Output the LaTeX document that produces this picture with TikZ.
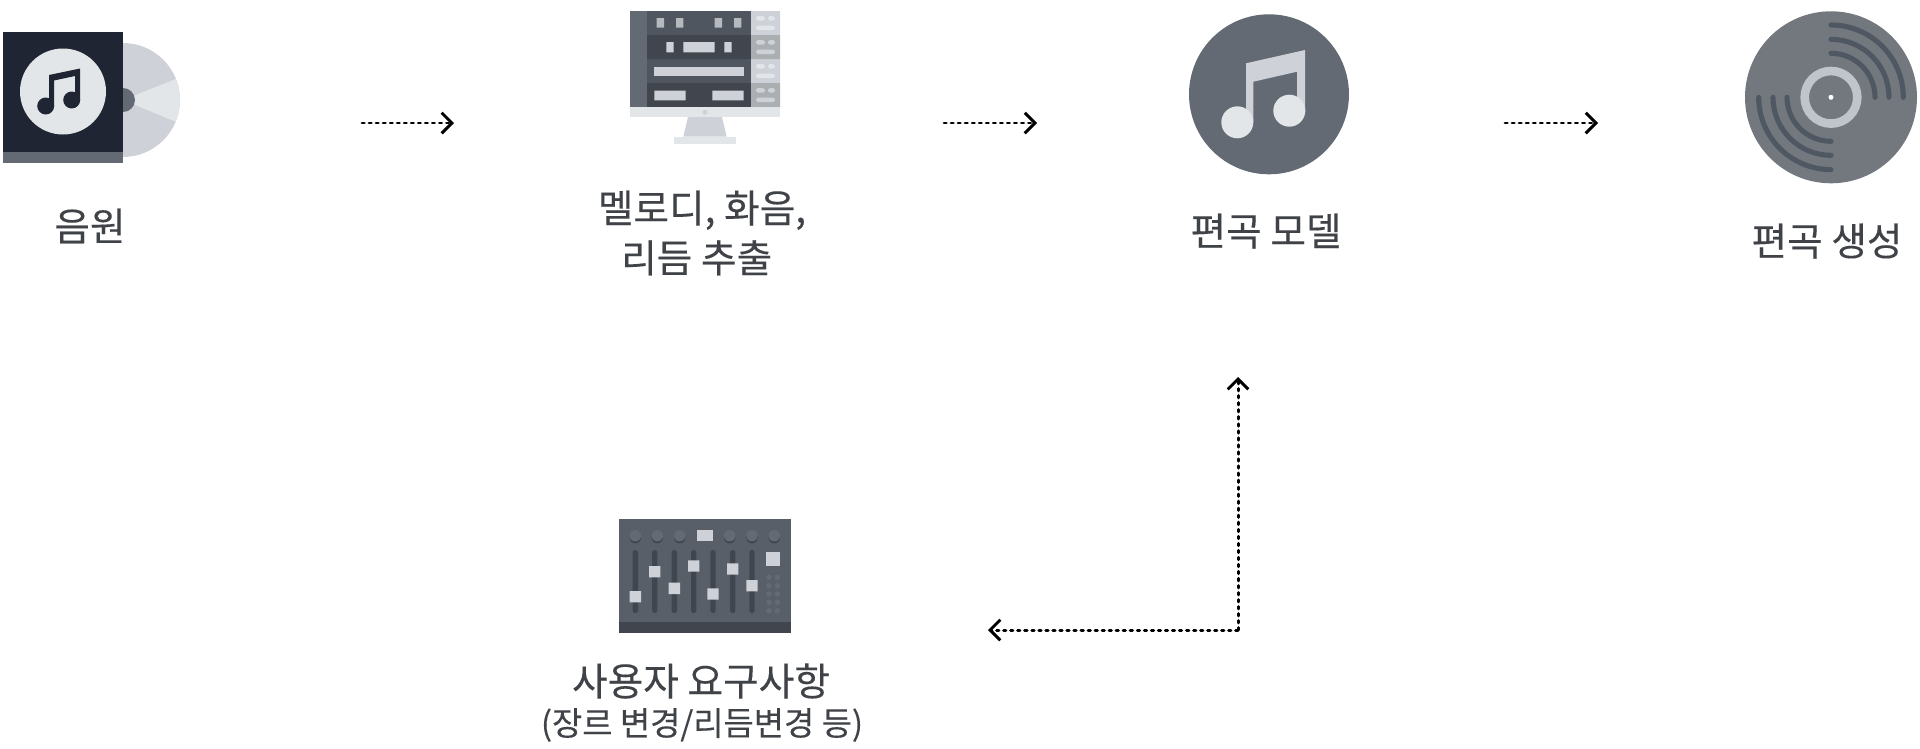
\documentclass[tikz,border=0pt]{standalone}
\usepackage{fontspec}
\setmainfont[FakeBold=.25]{Noto Sans CJK KR}
\usetikzlibrary{arrows.meta,calc}
\usepackage{tkz-euclide}
\definecolor{NavyClr}{HTML}{1F2533}
\definecolor{SlateClr}{HTML}{636A74}
\definecolor{PaleClr}{HTML}{CED2D8}
\definecolor{FogClr}{HTML}{E3E6E8}
\definecolor{RowClr}{HTML}{4F565F}
\definecolor{RowDarkClr}{HTML}{41464E}
\definecolor{GreyClr}{HTML}{ACAFB2}
\definecolor{VinylClr}{HTML}{73787F}
\definecolor{GrooveClr}{HTML}{4F5862}
\definecolor{DeskClr}{HTML}{585F68}
\definecolor{TextClr}{HTML}{3F4247}
\tikzset{
  FlowArrow/.style={line width=.85pt,color=black,dash pattern=on .65pt off 1.35pt,
    -{Straight Barb[length=2.9pt,width=5.8pt,line width=.85pt]}},
  StepLabel/.style={color=TextClr,font=\fontsize{11pt}{14.2pt}\selectfont,align=center,inner sep=0pt},
  NoteLabel/.style={color=TextClr,font=\fontsize{9.35pt}{12pt}\selectfont,align=center,inner sep=0pt},
  Groove/.style={line width=1.45pt,color=GrooveClr,line cap=round},
  Pill/.style={rounded corners=.5pt}
}
\begin{document}
\begin{tikzpicture}[x=.01cm,y=-.01cm]
\useasboundingbox (0,0) rectangle (1920,748);

\tkzDefPoints{362/123/AudioOut,454/123/ExtractIn,944/123/ExtractOut,1037/123/ModelIn,
  1505/123/ModelOut,1598/123/OutputIn,1238/630/Corner,1238/377/ModelBack,988/630/UserIn}

% album and disc
\fill[PaleClr] (123,100) circle (57);
\fill[FogClr] (123,100) -- (175.7,79) arc (-22:22:57) -- cycle;
\fill[SlateClr] (123,100) circle (12);
\fill[NavyClr] (3,32) rectangle (123,152);
\fill[SlateClr] (3,152) rectangle (123,163);
\fill[FogClr] (63,91.5) circle (43);
\fill[NavyClr] (49,75) -- (80,68.5) -- (80,100) -- (75,100) -- (75,76) -- (54,80.5) -- (54,106) -- (49,106) -- cycle;
\fill[NavyClr] (45.7,106) circle (8.5) (71.7,100) circle (8.5);

% monitor
\fill[RowClr] (647,11) rectangle (751,35) (647,59) rectangle (751,83);
\fill[RowDarkClr] (647,35) rectangle (751,59) (647,83) rectangle (751,107);
\fill[SlateClr] (630,11) rectangle (647,107);
\fill[PaleClr] (751,11) rectangle (780,35) (751,59) rectangle (780,83);
\fill[GreyClr] (751,35) rectangle (780,59) (751,83) rectangle (780,107);
\fill[FogClr] (630,107) rectangle (780,117);
\fill[PaleClr] (705,112.3) circle (2.5);
\fill[PaleClr] (688,117) -- (722,117) -- (726.7,136.7) -- (683.3,136.7) -- cycle;
\fill[FogClr] (673.7,136.7) rectangle (736.3,144);
\fill[GreyClr!70!PaleClr] (656.7,18) rectangle (664,27.7) (676,18) rectangle (683.3,27.7)
  (714.7,18) rectangle (722,27.7) (734,18) rectangle (741.3,27.7);
\fill[PaleClr] (666.3,42) rectangle (673.7,52.3) (683.3,42) rectangle (714.7,52.3) (724.3,42) rectangle (731.7,52.3);
\fill[PaleClr] (654.3,66.7) rectangle (743.7,76.3);
\fill[PaleClr] (654.3,90.7) rectangle (685.7,100.3) (712.3,90.7) rectangle (743.7,100.3);
\fill[FogClr,Pill] (756,16) rectangle (765,20.7) (768,16) rectangle (775,20.7) (756,25.7) rectangle (775,30)
  (756,64) rectangle (765,68.7) (768,64) rectangle (775,68.7) (756,73.7) rectangle (775,78);
\fill[PaleClr,Pill] (756,40) rectangle (765,44.7) (768,40) rectangle (775,44.7) (756,49.7) rectangle (775,54)
  (756,88) rectangle (765,92.7) (768,88) rectangle (775,92.7) (756,97.7) rectangle (775,102);

% note badge
\fill[SlateClr] (1269,94.3) circle (80);
\fill[PaleClr] (1246,63.3) -- (1305,50) -- (1305,112) -- (1297,112) -- (1297,71.7) -- (1253.3,81.7) -- (1253.3,122) -- (1246,122) -- cycle;
\fill[FogClr] (1237.3,122.3) circle (16) (1289.3,110.7) circle (16);

% record
\fill[VinylClr] (1831,97.3) circle (86);
\draw[Groove] (1831,25) arc (-90:0:72.3) (1831,39.3) arc (-90:0:58) (1831,53.3) arc (-90:0:44);
\draw[Groove] (1758.7,97.3) arc (-180:-270:72.3) (1773,97.3) arc (-180:-270:58) (1787,97.3) arc (-180:-270:44);
\draw[line width=2.45pt,color=PaleClr!85!VinylClr] (1831,97.3) circle (26.3);
\fill[white] (1831,97.3) circle (2.5);

% mixing desk
\fill[DeskClr] (619,519) rectangle (791,621.7);
\fill[RowDarkClr] (619,621.7) rectangle (791,633.3);
\fill[RowDarkClr] (635.3,537.7) circle (5.7) (657.3,537.7) circle (5.7) (679.7,537.7) circle (5.7)
  (729.7,537.7) circle (5.7) (752,537.7) circle (5.7) (774.3,537.7) circle (5.7);
\fill[SlateClr] (635.3,535.7) circle (5.7) (657.3,535.7) circle (5.7) (679.7,535.7) circle (5.7)
  (729.7,535.7) circle (5.7) (752,535.7) circle (5.7) (774.3,535.7) circle (5.7);
\fill[PaleClr] (696.7,530) rectangle (713.3,541.3);
\fill[RowDarkClr,rounded corners=.7pt] (632.6,550) rectangle (638,613) (652,550) rectangle (657.4,613)
  (671.6,550) rectangle (677,613) (691,550) rectangle (696.4,613) (710.3,550) rectangle (715.7,613)
  (730,550) rectangle (735.4,613) (749.3,550) rectangle (754.7,613);
\fill[PaleClr] (629.6,591) rectangle +(11.4,11.4) (649,566) rectangle +(11.4,11.4) (668.6,582.6) rectangle +(11.4,11.4)
  (688,560.3) rectangle +(11.4,11.4) (707.3,588.3) rectangle +(11.4,11.4) (727,563.3) rectangle +(11.4,11.4)
  (746.3,580) rectangle +(11.4,11.4);
\fill[PaleClr] (766,552.3) rectangle (780,566.3);
\fill[SlateClr] (769,577.3) circle (2.8) (777.3,577.3) circle (2.8) (769,585.7) circle (2.8) (777.3,585.7) circle (2.8)
  (769,594) circle (2.8) (777.3,594) circle (2.8) (769,602.3) circle (2.8) (777.3,602.3) circle (2.8)
  (769,610.7) circle (2.8) (777.3,610.7) circle (2.8);

\tkzDrawSegments[FlowArrow](AudioOut,ExtractIn ExtractOut,ModelIn ModelOut,OutputIn Corner,ModelBack Corner,UserIn)

\node[StepLabel] (audioLbl) at (90,226) {음원};
\node[StepLabel] (extractLbl) at (702,233) {멜로디, 화음,\\리듬 추출\hspace*{3pt}};
\node[StepLabel] (modelLbl) at (1266,231) {편곡 모델};
\node[StepLabel] (outputLbl) at (1827,241) {편곡 생성};
\node[StepLabel] (userLbl) at (701,681) {사용자 요구사항};
\node[NoteLabel] (userNote) at (702,725) {(장르 변경/리듬변경 등)};

\end{tikzpicture}
\end{document}
